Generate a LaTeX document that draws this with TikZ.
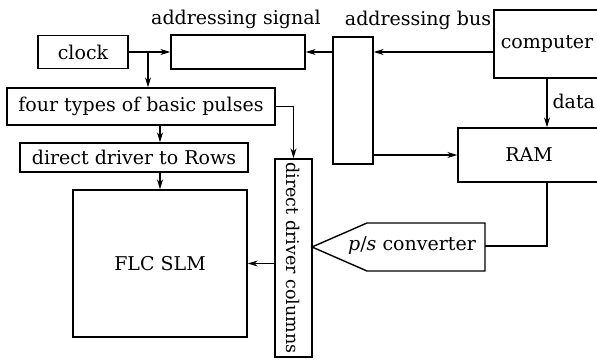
\documentclass[tikz,border=0pt]{standalone}
\usepackage{fontspec}
\setmainfont{DejaVu Serif}
\usepackage{graphicx}
\usetikzlibrary{arrows.meta}
\begin{document}
\begin{tikzpicture}[x=1pt,y=-1pt,font=\fontsize{19}{21}\selectfont]
	\useasboundingbox (0,0) rectangle (597,361);
	\tikzstyle{box}=[draw, line width=1.4pt, inner sep=0pt]
	\tikzstyle{link}=[line width=1.1pt, -{Stealth[length=10pt,width=6pt]}]
	% left column
	\node[box, minimum width=90pt, minimum height=33pt] (clock) at (83,52) {clock};
	\node[box, minimum width=268pt, minimum height=37pt] (four) at (141,106.5) {four types of basic pulses};
	\node[box, minimum width=228pt, minimum height=29pt] (rows) at (134,157.5) {direct driver to Rows};
	\node[box, minimum width=174pt, minimum height=147pt] (flc) at (160,263.5) {FLC SLM};
	\node[box, minimum width=37pt, minimum height=198pt] (cols) at (293.5,258) {\rotatebox{-90}{\fontsize{17.5}{19}\selectfont direct driver columns}};
	% addressing part
	\node[box, minimum width=134pt, minimum height=34pt] (sig) at (238,52) {};
	\node (lsig) at (236,19) {addressing signal};
	\node[box, minimum width=40pt, minimum height=127pt] (bus) at (353,100.5) {};
	\node (lbus) at (418,20) {addressing bus};
	\node[box, minimum width=106pt, minimum height=68pt] (comp) at (547,44) {computer};
	\node[box, minimum width=142pt, minimum height=54pt] (ram) at (529,155) {RAM};
	% p/s converter
	\coordinate (psT) at (312,247);
	\coordinate (psR) at (485,246);
	\draw[line width=1.4pt] (psT) -- (367,223) -- (485,223) -- (485,271) -- (367,271) -- cycle;
	\node (ps) at (412,246) {\textit{p}/\textit{s} converter};
	% connectors
	\coordinate (jc) at (148,52);
	\draw[link] (clock.east) -- (sig.west);
	\draw[link] (jc) -- (jc |- four.north);
	\draw[link] (four.south -| flc.north) -- (rows.north -| flc.north);
	\draw[link] (rows.south -| flc.north) -- (flc.north);
	\draw[link] (four.east) -| (cols.north);
	\draw[link] (cols.west |- flc.east) -- (flc.east);
	\draw[link] (bus.west |- sig.east) -- (sig.east);
	\draw[link] (comp.west |- sig.east) -- (bus.east |- sig.east);
	\draw[link] (comp.south) -- (comp.south |- ram.north);
	\node[anchor=west] (ldata) at (549,101) {data};
	\draw[link] (bus.east |- ram.west) -- (ram.west);
	\draw[line width=1.1pt] (ram.south -| comp.south) |- (psR);
\end{tikzpicture}
\end{document}
